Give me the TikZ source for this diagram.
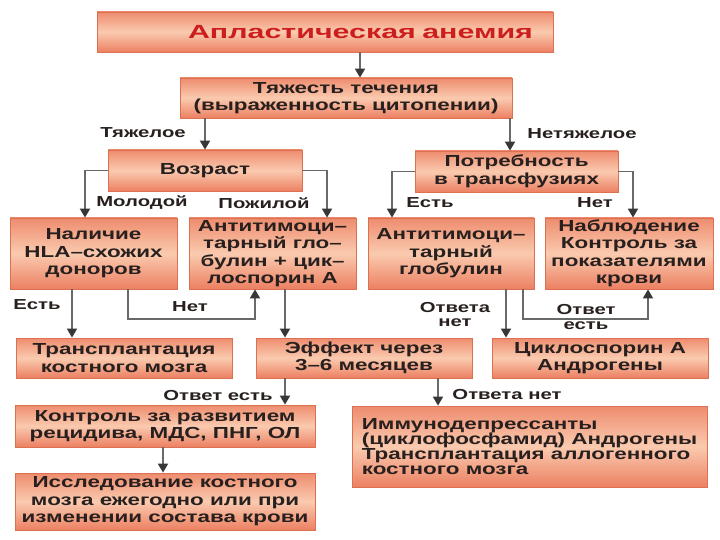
\documentclass[tikz,border=0pt]{standalone}
\usepackage{fontspec}
\setmainfont{Liberation Sans}[FakeStretch=1.4]
\newfontfamily\titlefont{Liberation Sans}[FakeStretch=1.6]
\usetikzlibrary{arrows.meta}
\definecolor{boxtop}{RGB}{238,140,110}
\definecolor{boxmid}{RGB}{250,202,175}
\definecolor{boxbot}{RGB}{236,128,98}
\definecolor{boxedge}{RGB}{222,112,82}
\definecolor{linec}{RGB}{105,105,105}
\definecolor{arrc}{RGB}{55,55,55}
\definecolor{txt}{RGB}{40,32,30}
\definecolor{titlered}{RGB}{205,30,30}
\tikzset{
  box/.style={draw=boxedge, line width=0.8pt, top color=boxtop, bottom color=boxbot, middle color=boxmid,
    align=center, inner sep=0pt, text=txt, font=\fontsize{16}{17.5}\selectfont\bfseries},
  arr/.style={draw=linec, line width=1.8pt, -{Triangle[length=9pt,width=10pt,color=arrc]}},
  lbl/.style={inner sep=0pt, align=center, text=txt, font=\fontsize{14.5}{15}\selectfont\bfseries}
}
\begin{document}
\begin{tikzpicture}[x=1pt,y=-1pt]
\useasboundingbox (0,0) rectangle (720,540);
\fill[white] (0,0) rectangle (720,540);

% boxes
\node[box, minimum width=456, minimum height=40, align=right, text width=416, inner xsep=20,
  text=titlered, font=\fontsize{19}{20}\selectfont\titlefont\bfseries] (title) at (325,32) {Апластическая анемия};
\node[box, minimum width=332, minimum height=40] (sev) at (346,98) {Тяжесть течения\\(выраженность цитопении)};
\node[box, minimum width=194, minimum height=41] (age) at (205,170.5) {Возраст};
\node[box, minimum width=203, minimum height=41] (need) at (516.5,171.5) {Потребность\\в трансфузиях};
\node[box, minimum width=167, minimum height=71] (hla) at (93.5,253.5) {Наличие\\HLA–схожих\\доноров};
\node[box, minimum width=167, minimum height=71] (atgc) at (272.5,253.5) {Антитимоци–\\тарный гло–\\булин + цик–\\лоспорин А};
\node[box, minimum width=166, minimum height=71] (atg) at (451,253.5) {Антитимоци–\\тарный\\глобулин};
\node[box, minimum width=168, minimum height=71] (obs) at (629,253.5) {Наблюдение\\Контроль за\\показателями\\крови};
\node[box, minimum width=216, minimum height=40] (tx) at (124,358) {Трансплантация\\костного мозга};
\node[box, minimum width=216, minimum height=40] (eff) at (364,358) {Эффект через\\3–6 месяцев};
\node[box, minimum width=216, minimum height=40] (cyc) at (600,358) {Циклоспорин А\\Андрогены};
\node[box, minimum width=300, minimum height=42] (ctl) at (165,426) {Контроль за развитием\\рецидива, МДС, ПНГ, ОЛ};
\node[box, minimum width=300, minimum height=57] (res) at (165,501.5) {Исследование костного\\мозга ежегодно или при\\изменении состава крови};
\node[box, minimum width=355, minimum height=81, align=left,
  font=\fontsize{16}{15}\selectfont\bfseries] (imm) at (529.5,446.5) {Иммунодепрессанты\\(циклофосфамид) Андрогены\\Трансплантация аллогенного\\костного мозга};

% column / row helpers
\coordinate (xa) at (360,0);
\coordinate (xb) at (205,0);
\coordinate (xc) at (510,0);
\coordinate (xd) at (85,0);
\coordinate (xe) at (327,0);
\coordinate (xf) at (392,0);
\coordinate (xg) at (633,0);
\coordinate (xh) at (72,0);
\coordinate (xi) at (128,0);
\coordinate (xj) at (255,0);
\coordinate (xk) at (285,0);
\coordinate (xl) at (506,0);
\coordinate (xm) at (523,0);
\coordinate (xn) at (648,0);
\coordinate (xo) at (438,0);
\coordinate (xp) at (163,0);
\coordinate (ya) at (0,319);

% connectors
\draw[arr] (title.south -| xa) -- (sev.north -| xa);
\draw[arr] (sev.south -| xb) -- (age.north -| xb);
\draw[arr] (sev.south -| xc) -- (need.north -| xc);
\draw[arr] (age.west) -| (hla.north -| xd);
\draw[arr] (age.east) -| (atgc.north -| xe);
\draw[arr] (need.west) -| (atg.north -| xf);
\draw[arr] (need.east) -| (obs.north -| xg);
\draw[arr] (hla.south -| xh) -- (tx.north -| xh);
\draw[arr] (hla.south -| xi) -- (xi |- ya) -- (xj |- ya) -- (atgc.south -| xj);
\draw[arr] (atgc.south -| xk) -- (eff.north -| xk);
\draw[arr] (atg.south -| xl) -- (cyc.north -| xl);
\draw[arr] (atg.south -| xm) -- (xm |- ya) -- (xn |- ya) -- (obs.south -| xn);
\draw[arr] (eff.south -| xk) -- (ctl.north -| xk);
\draw[arr] (eff.south -| xo) -- (imm.north -| xo);
\draw[arr] (ctl.south -| xp) -- (res.north -| xp);

% labels
\node[lbl] (l1) at (143,133) {Тяжелое};
\node[lbl] (l2) at (582,134) {Нетяжелое};
\node[lbl] (l3) at (142,203) {Молодой};
\node[lbl] (l4) at (264,203) {Пожилой};
\node[lbl] (l5) at (430,203) {Есть};
\node[lbl] (l6) at (595,203) {Нет};
\node[lbl] (l7) at (37,305) {Есть};
\node[lbl] (l8) at (190,307) {Нет};
\node[lbl, font=\fontsize{14.5}{14}\selectfont\bfseries] (l9) at (455,315) {Ответа\\нет};
\node[lbl, font=\fontsize{14.5}{15}\selectfont\bfseries] (l10) at (586,317.5) {Ответ\\есть};
\node[lbl] (l11) at (218,396) {Ответ есть};
\node[lbl] (l12) at (507,395) {Ответа нет};
\end{tikzpicture}
\end{document}
